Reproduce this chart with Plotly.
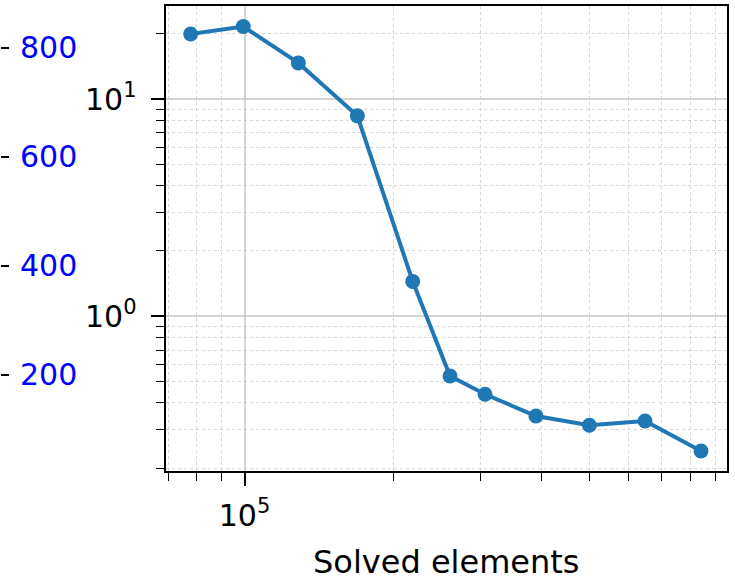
import plotly.graph_objects as go

# Data
solved_elements = [77800, 99400, 128500, 169200, 219000, 260600, 306800, 389000, 499000, 646800, 839700]
values = [19.95, 21.6, 14.69, 8.38, 1.449, 0.531, 0.4377, 0.3477, 0.315, 0.33, 0.240]

x_major_ticks = [1e5]
x_major_text = ["10<sup>5</sup>"]
x_minor_ticks = [7e4, 8e4, 9e4, 2e5, 3e5, 4e5, 5e5, 6e5, 7e5, 8e5, 9e5]
y_major_ticks = [1, 10]
y_major_text = ["10<sup>0</sup>", "10<sup>1</sup>"]
y_minor_ticks = [0.2, 0.3, 0.4, 0.5, 0.6, 0.7, 0.8, 0.9, 2, 3, 4, 5, 6, 7, 8, 9, 20]
left_axis_ticks = [200, 400, 600, 800]

W, H = 735, 581
L_PX, R_PX, T_PX, B_PX = 165.5, 727, 6, 471.5
FONT = "DejaVu Sans"
FS = 30

fig = go.Figure()
fig.add_trace(go.Scatter(
    x=solved_elements, y=values, mode="lines+markers",
    line=dict(color="#1f77b4", width=4),
    marker=dict(color="#1f77b4", size=15),
    showlegend=False, cliponaxis=False,
))
# invisible trace to activate the leftover blue axis
fig.add_trace(go.Scatter(x=[solved_elements[0]], y=[left_axis_ticks[0]], yaxis="y2",
                         mode="markers", marker=dict(opacity=0), showlegend=False,
                         hoverinfo="skip"))

paper_w = R_PX
grid_major = "rgba(176,176,176,0.55)"
grid_minor = "rgba(176,176,176,0.5)"

fig.update_layout(
    width=W, height=H,
    margin=dict(l=0, r=W - R_PX, t=T_PX, b=H - B_PX, autoexpand=False),
    paper_bgcolor="white", plot_bgcolor="white",
    font=dict(family=FONT, size=FS, color="black"),
    xaxis=dict(
        type="log", domain=[L_PX / paper_w, 1], automargin=False,
        range=[4.840, 5.9767],
        tickmode="array", tickvals=x_major_ticks, ticktext=x_major_text,
        ticks="outside", ticklen=13, tickwidth=1.5, tickcolor="black",
        ticklabelstandoff=4,
        showline=True, linecolor="black", linewidth=2, mirror=True,
        showgrid=True, gridcolor=grid_major, gridwidth=1.5,
        minor=dict(tickmode="array", tickvals=x_minor_ticks, ticks="outside",
                   ticklen=8, tickwidth=1.2, tickcolor="black",
                   showgrid=True, gridcolor=grid_minor, griddash="dot", gridwidth=1),
        title=dict(text="Solved elements", font=dict(size=32), standoff=24),
        zeroline=False,
    ),
    yaxis=dict(
        type="log", range=[-0.712, 1.429], automargin=False,
        tickmode="array", tickvals=y_major_ticks, ticktext=y_major_text,
        ticks="outside", ticklen=13, tickwidth=1.5, tickcolor="black",
        ticklabelstandoff=8,
        showline=True, linecolor="black", linewidth=2, mirror=True,
        showgrid=True, gridcolor=grid_major, gridwidth=1.5,
        minor=dict(tickmode="array", tickvals=y_minor_ticks, ticks="outside",
                   ticklen=8, tickwidth=1.2, tickcolor="black",
                   showgrid=True, gridcolor=grid_minor, griddash="dot", gridwidth=1),
        zeroline=False,
    ),
    yaxis2=dict(
        overlaying="y", anchor="free", position=0, side="right", automargin=False,
        range=[23.1, 876.4], tickmode="array", tickvals=left_axis_ticks,
        ticks="outside", ticklen=8, tickwidth=1.5, tickcolor="black",
        ticklabelstandoff=5,
        tickfont=dict(color="#0000ff", size=FS),
        showline=False, showgrid=False, zeroline=False,
    ),
)

fig.write_html("out.html", config={"displayModeBar": False},
               post_script="document.body.style.margin='0';document.body.style.padding='0';")
